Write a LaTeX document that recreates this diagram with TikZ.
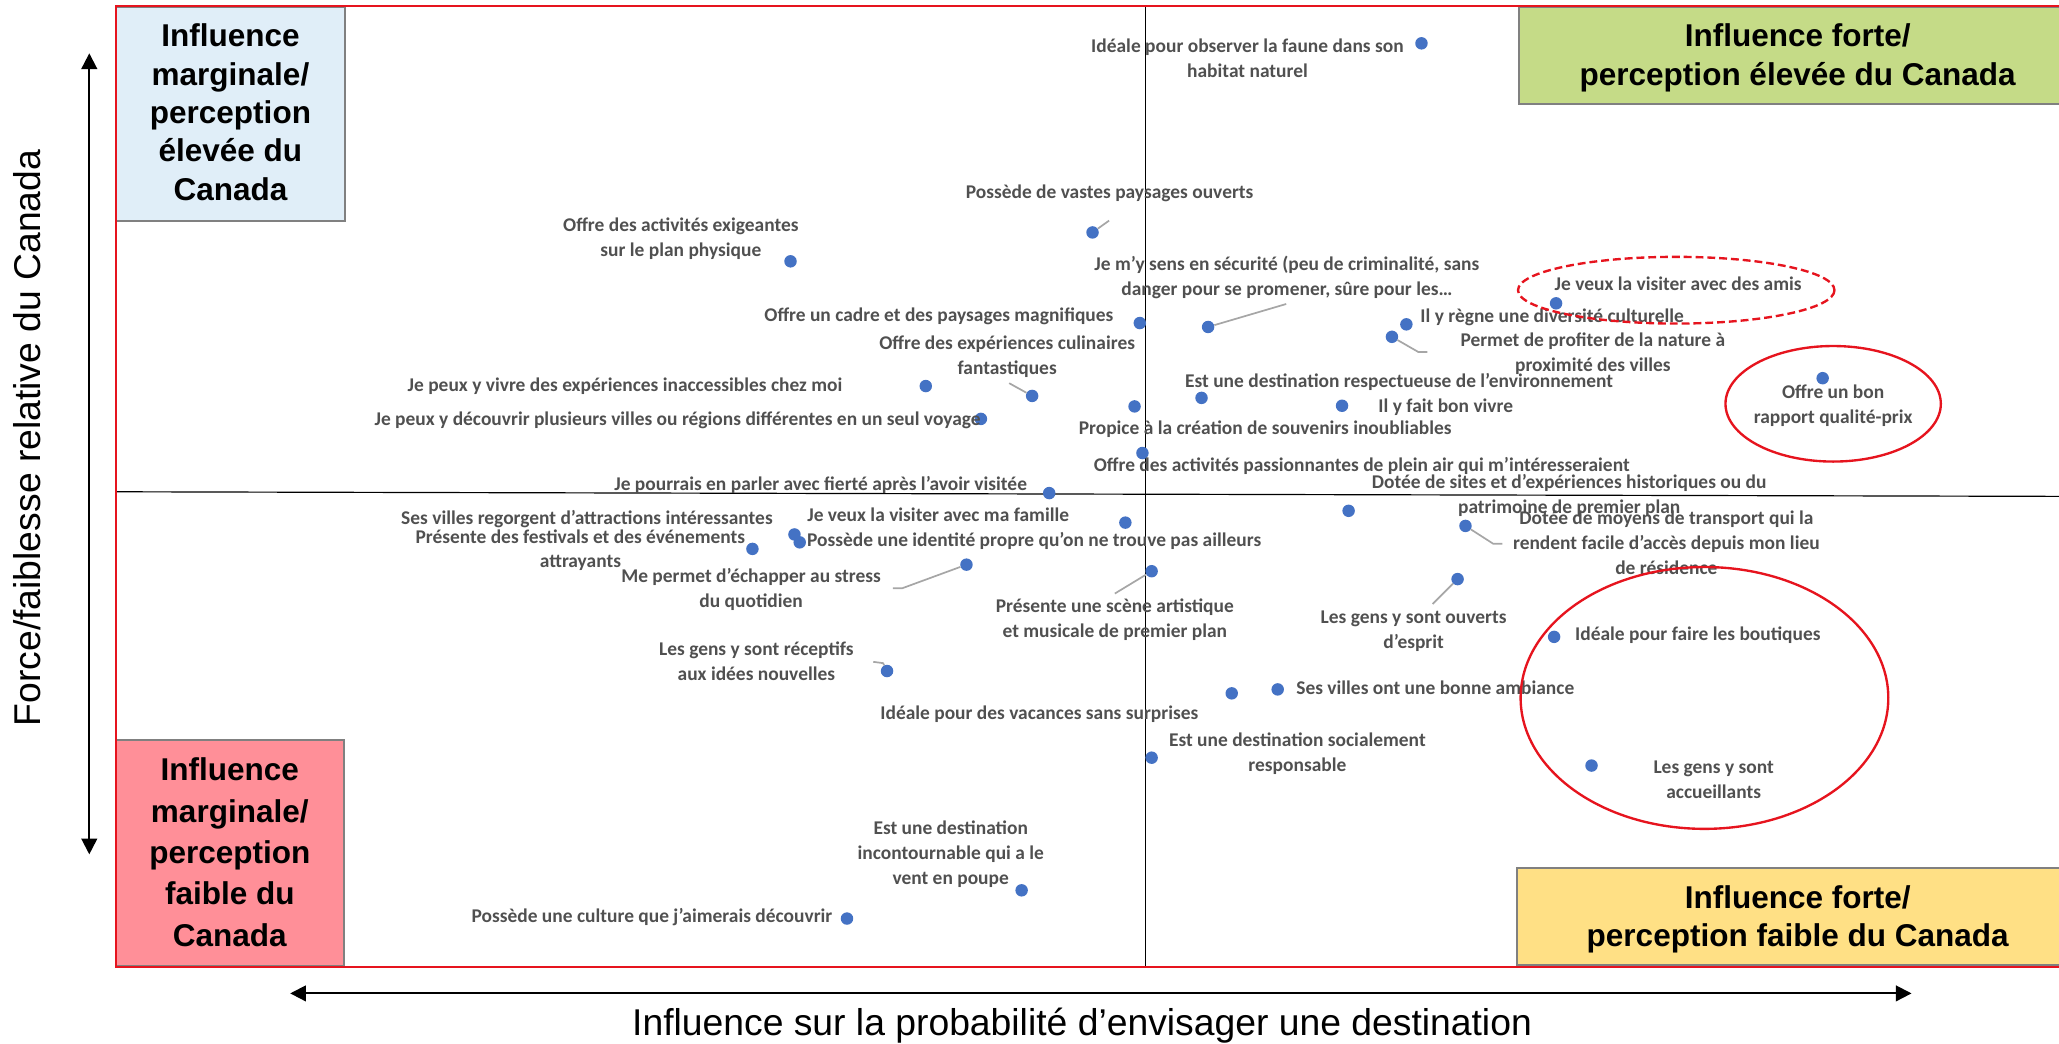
\documentclass[tikz,border=0pt]{standalone}
\usepackage{fontspec}
\setmainfont{Liberation Sans}
\newfontfamily\labfont{Carlito}
\usetikzlibrary{arrows.meta}
\definecolor{labgrey}{HTML}{505050}
\definecolor{dotblue}{HTML}{4472C4}
\definecolor{leadgrey}{HTML}{A6A6A6}
\definecolor{boxgrey}{HTML}{808080}
\definecolor{framered}{HTML}{E6141E}
\definecolor{bluefill}{HTML}{E0EEF8}
\definecolor{greenfill}{HTML}{C5DB87}
\definecolor{pinkfill}{HTML}{FF8F98}
\definecolor{yellowfill}{HTML}{FFE085}
\begin{document}
\begin{tikzpicture}[x=1pt,y=-1pt,
  lbl/.style={font=\labfont\bfseries\fontsize{14.8}{19}\selectfont, text=labgrey, align=center, inner sep=0pt},
  dot/.style={circle, fill=dotblue, inner sep=0pt, minimum size=9.5pt},
  lead/.style={draw=leadgrey, line width=1.3pt},
  qbox/.style={draw=boxgrey, line width=1.5pt},
  qtext/.style={font=\bfseries\fontsize{24}{29.2}\selectfont, align=center, inner sep=0pt},
  axislab/.style={font=\fontsize{28.4}{34}\selectfont, inner sep=0pt},
  axisarrow/.style={line width=1.5pt, arrows={Triangle[width=12pt,length=12pt]-Triangle[width=12pt,length=12pt]}},
  redring/.style={draw=framered, line width=1.8pt}]
\useasboundingbox (0,0) rectangle (1568,795);

% quadrant boxes
\draw[qbox, fill=bluefill] (88,5.6) rectangle (263,168.4);
\draw[qbox, fill=pinkfill] (88,563.6) rectangle (262,735.9);
\fill[greenfill] (1156.5,5.6) rectangle (1568,79.2);
\draw[qbox] (1568,5.6) -- (1156.5,5.6) -- (1156.5,79.2) -- (1568,79.2);
\fill[yellowfill] (1155.5,661) rectangle (1568,735);
\draw[qbox] (1568,661) -- (1155.5,661) -- (1155.5,735) -- (1568,735);

% quadrant dividers
\draw[black, line width=0.9pt] (872.5,4.6) -- (872.5,736.5);
\draw[black, line width=0.9pt] (88,374.5) -- (1568,378);

% frame
\draw[framered, line width=1.6pt] (1568,4.6) -- (88,4.6) -- (88,736.5) -- (1568,736.5);

% quadrant texts
\node[qtext] (qtl) at (175.5,85.5) {Influence\\marginale/\\perception\\élevée du\\Canada};
\node[qtext] (qtr) at (1369,44) {Influence forte/\\perception élevée du Canada};
\node[qtext, font=\bfseries\fontsize{24}{31.5}\selectfont] (qbl) at (175,649) {Influence\\marginale/\\perception\\faible du\\Canada};
\node[qtext] (qbr) at (1369,700) {Influence forte/\\perception faible du Canada};

% axes
\coordinate (ytop) at (68,40.6);
\coordinate (ybot) at (68,650.6);
\coordinate (xleft) at (221,756.5);
\coordinate (xright) at (1455.7,756.5);
\draw[axisarrow] (ytop) -- (ybot);
\draw[axisarrow] (xleft) -- (xright);
\node[axislab, rotate=90] (ylab) at (21,333.5) {Force/faiblesse relative du Canada};
\node[axislab] (xlab) at (824,781) {Influence sur la probabilité d’envisager une destination};

% data points
\node[dot] (d1) at (1082.5,33) {};
\node[dot] (d2) at (832,177) {};
\node[dot] (d3) at (602,199) {};
\node[dot] (d4) at (920,249) {};
\node[dot] (d5) at (1185,231) {};
\node[dot] (d6) at (868,246) {};
\node[dot] (d7) at (1071,247) {};
\node[dot] (d8) at (1060,256.5) {};
\node[dot] (d9) at (786,301.5) {};
\node[dot] (d10) at (705,294) {};
\node[dot] (d11) at (747,319) {};
\node[dot] (d12) at (915,303) {};
\node[dot] (d13) at (1022,309) {};
\node[dot] (d14) at (864,309.5) {};
\node[dot] (d15) at (1388,288) {};
\node[dot] (d16) at (870,345) {};
\node[dot] (d17) at (1027,389) {};
\node[dot] (d18) at (799,375.5) {};
\node[dot] (d19) at (857,398) {};
\node[dot] (d20) at (605,407) {};
\node[dot] (d21) at (573,418) {};
\node[dot] (d22) at (609,413) {};
\node[dot] (d23) at (1116,400.5) {};
\node[dot] (d24) at (736,430) {};
\node[dot] (d25) at (877,435) {};
\node[dot] (d26) at (1110,441) {};
\node[dot] (d27) at (1183.5,485) {};
\node[dot] (d28) at (675.5,511) {};
\node[dot] (d29) at (973,525) {};
\node[dot] (d30) at (938,528) {};
\node[dot] (d31) at (877,577) {};
\node[dot] (d32) at (1212,583) {};
\node[dot] (d33) at (778,678) {};
\node[dot] (d34) at (645,699.5) {};

% leader lines
\coordinate (e2) at (844.6,168);
\coordinate (e4) at (979.5,231.5);
\coordinate (e8a) at (1080,268);
\coordinate (e8b) at (1087,268);
\coordinate (e9) at (768.5,291.8);
\coordinate (e23a) at (1137,414);
\coordinate (e23b) at (1144,414);
\coordinate (e24a) at (687,448);
\coordinate (e24b) at (680,448);
\coordinate (e25) at (849,452);
\coordinate (e26) at (1091,460);
\coordinate (e28a) at (672.5,505);
\coordinate (e28b) at (665,504);
\draw[lead] (d2) -- (e2);
\draw[lead] (d4) -- (e4);
\draw[lead] (d8) -- (e8a) -- (e8b);
\draw[lead] (d9) -- (e9);
\draw[lead] (d23) -- (e23a) -- (e23b);
\draw[lead] (d24) -- (e24a) -- (e24b);
\draw[lead] (d25) -- (e25);
\draw[lead] (d26) -- (e26);
\draw[lead] (d28) -- (e28a) -- (e28b);

% labels
\node[lbl] (l1) at (950,44.5) {Idéale pour observer la faune dans son\\habitat naturel};
\node[lbl] (l2) at (845,147) {Possède de vastes paysages ouverts};
\node[lbl] (l3) at (518.5,182) {Offre des activités exigeantes\\sur le plan physique};
\node[lbl] (l4) at (980,211) {Je m’y sens en sécurité (peu de criminalité, sans\\danger pour se promener, sûre pour les…};
\node[lbl] (l5) at (1278,216) {Je veux la visiter avec des amis};
\node[lbl] (l6) at (715,241) {Offre un cadre et des paysages magnifiques};
\node[lbl] (l7) at (1182,242) {Il y règne une diversité culturelle};
\node[lbl] (l8) at (1213,269) {Permet de profiter de la nature à\\proximité des villes};
\node[lbl] (l9) at (767,271.5) {Offre des expériences culinaires\\fantastiques};
\node[lbl] (l10) at (476,294) {Je peux y vivre des expériences inaccessibles chez moi};
\node[lbl] (l11) at (516,320) {Je peux y découvrir plusieurs villes ou régions différentes en un seul voyage};
\node[lbl] (l12) at (1065.5,291) {Est une destination respectueuse de l’environnement};
\node[lbl] (l13) at (1101,310) {Il y fait bon vivre};
\node[lbl] (l14) at (963.5,327) {Propice à la création de souvenirs inoubliables};
\node[lbl] (l15) at (1396,309) {Offre un bon\\rapport qualité-prix};
\node[lbl] (l16) at (1037,355) {Offre des activités passionnantes de plein air qui m’intéresseraient};
\node[lbl] (l17) at (1195,377.5) {Dotée de sites et d’expériences historiques ou du\\patrimoine de premier plan};
\node[lbl] (l18) at (625,369) {Je pourrais en parler avec fierté après l’avoir visitée};
\node[lbl] (l19) at (714.5,392) {Je veux la visiter avec ma famille};
\node[lbl] (l20) at (447,395) {Ses villes regorgent d’attractions intéressantes};
\node[lbl] (l21) at (442,419) {Présente des festivals et des événements\\attrayants};
\node[lbl] (l22) at (787.5,412) {Possède une identité propre qu’on ne trouve pas ailleurs};
\node[lbl] (l23) at (1269,413.5) {Dotée de moyens de transport qui la\\rendent facile d’accès depuis mon lieu\\de résidence};
\node[lbl] (l24) at (572,449) {Me permet d’échapper au stress\\du quotidien};
\node[lbl] (l25) at (849,472) {Présente une scène artistique\\et musicale de premier plan};
\node[lbl] (l26) at (1076.5,480.5) {Les gens y sont ouverts\\d’esprit};
\node[lbl] (l27) at (1293,484) {Idéale pour faire les boutiques};
\node[lbl] (l28) at (576,503.5) {Les gens y sont réceptifs\\aux idées nouvelles};
\node[lbl] (l29) at (1093,524) {Ses villes ont une bonne ambiance};
\node[lbl] (l30) at (791.5,544) {Idéale pour des vacances sans surprises};
\node[lbl] (l31) at (988,574) {Est une destination socialement\\responsable};
\node[lbl] (l32) at (1305,594) {Les gens y sont\\accueillants};
\node[lbl] (l33) at (724,650.5) {Est une destination\\incontournable qui a le\\vent en poupe};
\node[lbl] (l34) at (496.5,698) {Possède une culture que j’aimerais découvrir};

% highlight rings
\draw[redring, dash pattern=on 6pt off 3pt] (1276.5,221) ellipse [x radius=120.5, y radius=25.4];
\draw[redring] (1396,307.5) ellipse [x radius=82, y radius=44];
\draw[redring] (1298,531.5) ellipse [x radius=140, y radius=99.7];
\end{tikzpicture}
\end{document}
